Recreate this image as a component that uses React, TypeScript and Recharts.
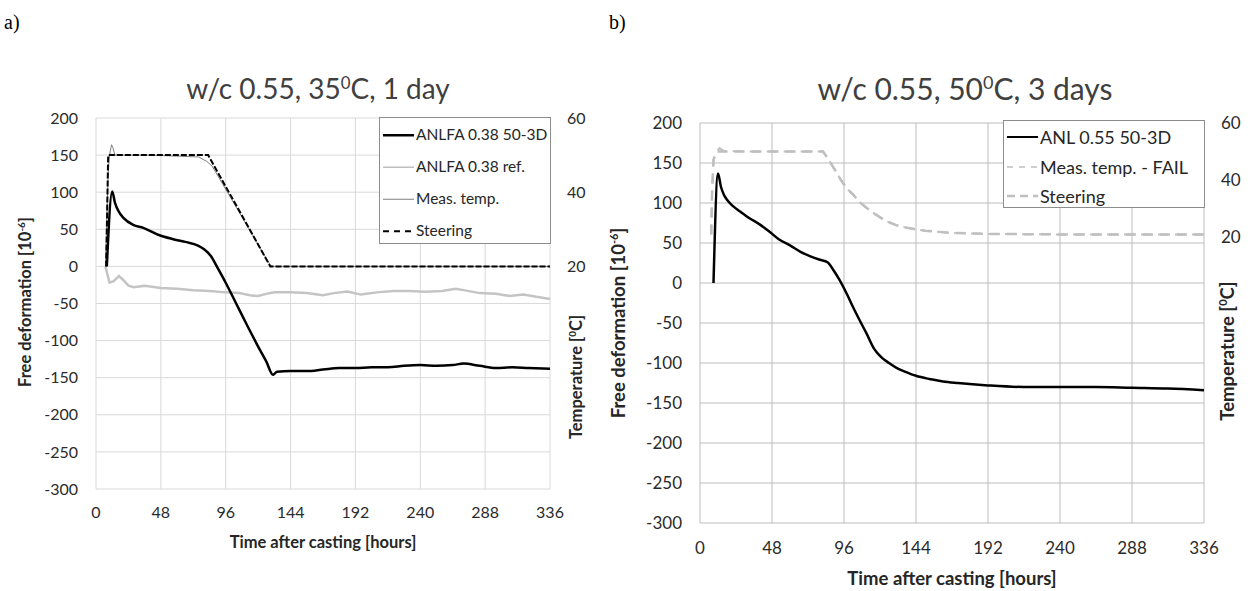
import { LineChart, Line, XAxis, YAxis, CartesianGrid } from "recharts";

// time axis (hours after casting)
const hourTicks = [0, 48, 96, 144, 192, 240, 288, 336];
const deformTicks = [200, 150, 100, 50, 0, -50, -100, -150, -200, -250, -300];
const tempTicks = [20, 40, 60];

// a) w/c 0.55, 35C, 1 day  -- [hour, value]
const anlfa5030: [number, number][] = [
  [8, 0], [12, 101], [14, 86], [16.5, 75], [20.5, 65], [27.5, 56], [35, 52],
  [47, 42], [56.5, 37], [66, 33], [75.5, 28], [80, 23], [85, 14], [90, -2],
  [96, -22], [104, -51], [112, -80], [120, -108], [126, -128], [131, -146],
  [134, -142], [144, -141], [156, -141], [168, -139], [180, -137], [192, -137],
  [204, -136], [216, -136], [228, -134], [240, -133], [252, -134], [264, -133],
  [272, -131], [284, -134], [296, -137], [308, -136], [320, -137], [336, -138],
];
const anlfaRef: [number, number][] = [
  [7, 0], [9, -15], [10, -22], [13, -20], [17, -13], [20, -18], [24, -26],
  [28, -28], [36, -26], [48, -29], [60, -30], [72, -32], [84, -33], [96, -35],
  [106, -36], [114, -39], [120, -40], [126, -37], [132, -35], [144, -35],
  [156, -36], [168, -39], [176, -36], [186, -34], [196, -38], [208, -35],
  [220, -33], [232, -33], [244, -34], [256, -33], [266, -30], [272, -32],
  [284, -36], [296, -37], [306, -40], [316, -38], [326, -41], [336, -44],
];
const leftMeasTemp: [number, number][] = [
  [7, 20], [9, 45], [10, 50], [11.5, 52.8], [12.5, 52], [14, 50], [40, 50],
  [76, 49.5], [82, 48.3], [86, 47], [129, 20.3], [131, 20], [336, 20],
];
const leftSteering: [number, number][] = [
  [7.5, 20], [9, 50], [83, 50], [129, 20], [336, 20],
];

// b) w/c 0.55, 50C, 3 days
const anl5530: [number, number][] = [
  [9, 0], [12, 137], [14, 120], [16, 110], [18, 104], [22, 96], [27, 89],
  [33, 81], [40, 73], [47, 63], [53, 54], [60, 47], [67, 39], [74, 33],
  [80, 29], [85, 26], [89, 16], [93, 4], [98, -14], [102, -30], [106, -45],
  [111, -63], [116, -82], [121, -93], [126, -100], [131, -106], [137, -111],
  [144, -116], [153, -120], [162, -123], [172, -125], [192, -128], [216, -130],
  [240, -130], [264, -130], [288, -131], [312, -132], [336, -134],
];
const rightMeasTemp: [number, number][] = [
  [7.5, 21], [8, 35], [9, 47], [11, 50], [13, 51.2], [16, 50.2], [40, 50],
  [82, 50], [86, 47], [90, 43.5], [94, 40], [98, 37], [102, 35], [106, 32.5],
  [111, 30.3], [117, 28], [124, 25.7], [131, 24.2], [138, 23.3], [150, 22.3],
  [166, 21.6], [190, 21.2], [240, 21], [336, 21],
];
const rightSteering: [number, number][] = [
  [7.5, 21], [8, 35], [9, 47], [10.5, 50], [82, 50], [86, 47], [90, 43.5],
  [94, 40], [98, 37], [102, 35], [106, 32.5], [111, 30.3], [117, 28],
  [124, 25.7], [131, 24.2], [138, 23.3], [150, 22.3], [166, 21.6], [190, 21.2],
  [240, 21], [336, 21],
];

const pts = (arr: [number, number][]) => arr.map(([t, v]) => ({ t, v }));

const FONT = "Lato, 'Open Sans', sans-serif";

function Text({ x, y, rotate, style, children }: any) {
  return (
    <div
      style={{
        position: "absolute",
        left: x,
        top: y,
        transform: `translate(-50%, -50%)${rotate ? " rotate(-90deg)" : ""}`,
        whiteSpace: "nowrap",
        lineHeight: 1,
        ...style,
      }}
    >
      {children}
    </div>
  );
}

type LegendItem = { label: string; color: string; width: number; dash?: string };

function LegendBox({ left, top, width, height, items, firstY, gap, fontSize }: any) {
  return (
    <div
      style={{
        position: "absolute",
        left,
        top,
        width,
        height,
        boxSizing: "border-box",
        border: "1px solid #8c8c8c",
        background: "#fff",
      }}
    >
      {items.map((it: LegendItem, i: number) => (
        <div
          key={it.label}
          style={{
            position: "absolute",
            left: 3,
            top: firstY + i * gap,
            transform: "translateY(-50%)",
            display: "flex",
            alignItems: "center",
            whiteSpace: "nowrap",
            fontSize,
            color: "#262626",
            lineHeight: 1,
          }}
        >
          <svg width={31} height={10} style={{ marginRight: 2 }}>
            <line
              x1={0}
              x2={31}
              y1={5}
              y2={5}
              stroke={it.color}
              strokeWidth={it.width}
              strokeDasharray={it.dash}
            />
          </svg>
          {it.label}
        </div>
      ))}
    </div>
  );
}

const sup = (s: string) => (
  <sup style={{ fontSize: "0.6em", verticalAlign: "0.6em", lineHeight: 0 }}>{s}</sup>
);

export default function App() {
  const tickL = { fontSize: 16, fill: "#2b2b2b", fontFamily: FONT };
  const tickR = { fontSize: 17, fill: "#2b2b2b", fontFamily: FONT };
  return (
    <div
      style={{
        position: "absolute",
        left: 0,
        top: 0,
        width: 1259,
        height: 591,
        background: "#fff",
        fontFamily: FONT,
        color: "#333",
      }}
    >
      <div style={{ position: "absolute", left: 4, top: 11, fontFamily: "'Liberation Serif'", fontSize: 20, color: "#000" }}>
        a)
      </div>
      <div style={{ position: "absolute", left: 609, top: 11, fontFamily: "'Liberation Serif'", fontSize: 20, color: "#000" }}>
        b)
      </div>

      {/* panel a */}
      <div style={{ position: "absolute", left: 0, top: 0 }}>
        <LineChart width={620} height={591} margin={{ top: 118, right: 20, bottom: 62, left: 0 }}>
          <CartesianGrid stroke="#d9d9d9" strokeWidth={1} />
          <XAxis
            type="number"
            dataKey="t"
            domain={[0, 336]}
            ticks={hourTicks}
            height={40}
            axisLine={false}
            tickLine={false}
            tickSize={0}
            tickMargin={18}
            tick={tickL}
          />
          <YAxis
            yAxisId={0}
            domain={[-300, 200]}
            ticks={deformTicks}
            width={96}
            axisLine={false}
            tickLine={false}
            tickSize={0}
            tickMargin={18}
            tick={tickL}
          />
          <YAxis
            yAxisId="temp"
            orientation="right"
            domain={[-40, 60]}
            ticks={tempTicks}
            width={50}
            axisLine={false}
            tickLine={false}
            tickSize={0}
            tickMargin={17}
            tick={{ ...tickL, textAnchor: "start" }}
          />
          <Line data={pts(anlfaRef)} dataKey="v" yAxisId={0} type="linear" stroke="#c4c4c4" strokeWidth={2.5} dot={false} isAnimationActive={false} />
          <Line data={pts(anlfa5030)} dataKey="v" yAxisId={0} type="monotone" stroke="#000" strokeWidth={2.5} dot={false} isAnimationActive={false} />
          <Line data={pts(leftMeasTemp)} dataKey="v" yAxisId="temp" type="linear" stroke="#7f7f7f" strokeWidth={1} dot={false} isAnimationActive={false} />
          <Line data={pts(leftSteering)} dataKey="v" yAxisId="temp" type="linear" stroke="#000" strokeWidth={2} strokeDasharray="6 2" dot={false} isAnimationActive={false} />
        </LineChart>
      </div>

      {/* panel b */}
      <div style={{ position: "absolute", left: 620, top: 0 }}>
        <LineChart width={639} height={591} margin={{ top: 123, right: 15, bottom: 28, left: 0 }}>
          <CartesianGrid stroke="#bcbcbc" strokeWidth={1} />
          <XAxis
            type="number"
            dataKey="t"
            domain={[0, 336]}
            ticks={hourTicks}
            height={40}
            axisLine={false}
            tickLine={false}
            tickSize={0}
            tickMargin={19}
            tick={tickR}
          />
          <YAxis
            yAxisId={0}
            domain={[-300, 200]}
            ticks={deformTicks}
            width={80}
            axisLine={false}
            tickLine={false}
            tickSize={0}
            tickMargin={18}
            tick={tickR}
          />
          <YAxis
            yAxisId="temp"
            orientation="right"
            domain={[-80, 60]}
            ticks={tempTicks}
            width={40}
            axisLine={false}
            tickLine={false}
            tickSize={0}
            tickMargin={17}
            tick={{ ...tickR, textAnchor: "start" }}
          />
          <Line data={pts(rightMeasTemp)} dataKey="v" yAxisId="temp" type="linear" stroke="#bfbfbf" strokeWidth={2} strokeDasharray="10 7" dot={false} isAnimationActive={false} />
          <Line data={pts(rightSteering)} dataKey="v" yAxisId="temp" type="linear" stroke="#bfbfbf" strokeWidth={2.5} strokeDasharray="10 7" dot={false} isAnimationActive={false} />
          <Line data={pts(anl5530)} dataKey="v" yAxisId={0} type="monotone" stroke="#000" strokeWidth={2.5} dot={false} isAnimationActive={false} />
        </LineChart>
      </div>

      {/* titles */}
      <Text x={318} y={88} style={{ fontSize: 28, color: "#404040" }}>
        w/c 0.55, 35{sup("0")}C, 1 day
      </Text>
      <Text x={965} y={88} style={{ fontSize: 30, color: "#404040" }}>
        w/c 0.55, 50{sup("0")}C, 3 days
      </Text>

      {/* axis titles */}
      <Text x={25} y={302} rotate style={{ fontSize: 16.5, fontWeight: 700, color: "#262626" }}>
        Free deformation [10{sup("-6")}]
      </Text>
      <Text x={576} y={377} rotate style={{ fontSize: 16.5, fontWeight: 700, color: "#262626" }}>
        Temperature [{sup("0")}C]
      </Text>
      <Text x={323} y={542} style={{ fontSize: 16.5, fontWeight: 700, color: "#262626" }}>
        Time after casting [hours]
      </Text>
      <Text x={618} y={323} rotate style={{ fontSize: 18.5, fontWeight: 700, color: "#262626" }}>
        Free deformation [10{sup("-6")}]
      </Text>
      <Text x={1227} y={351} rotate style={{ fontSize: 18.5, fontWeight: 700, color: "#262626" }}>
        Temperature [{sup("0")}C]
      </Text>
      <Text x={952} y={578} style={{ fontSize: 18.5, fontWeight: 700, color: "#262626" }}>
        Time after casting [hours]
      </Text>

      <LegendBox
        left={379}
        top={117}
        width={172}
        height={127}
        firstY={17}
        gap={32}
        fontSize={15.5}
        items={[
          { label: "ANLFA 0.38 50-3D", color: "#000", width: 2.5 },
          { label: "ANLFA 0.38 ref.", color: "#bfbfbf", width: 1.5 },
          { label: "Meas. temp.", color: "#7f7f7f", width: 1 },
          { label: "Steering", color: "#000", width: 2, dash: "6 5" },
        ]}
      />
      <LegendBox
        left={1003}
        top={120}
        width={202}
        height={88}
        firstY={16}
        gap={29.5}
        fontSize={18}
        items={[
          { label: "ANL 0.55 50-3D", color: "#000", width: 2 },
          { label: "Meas. temp. - FAIL", color: "#bfbfbf", width: 1.5, dash: "6 6" },
          { label: "Steering", color: "#bfbfbf", width: 2.5, dash: "8 5" },
        ]}
      />
    </div>
  );
}
